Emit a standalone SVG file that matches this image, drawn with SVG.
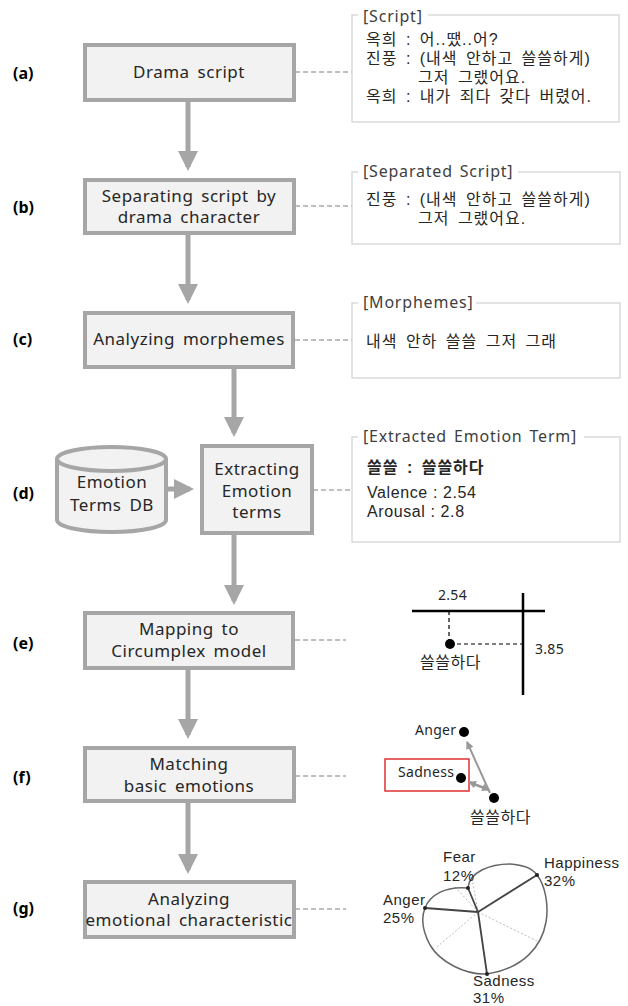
<svg xmlns="http://www.w3.org/2000/svg" width="628" height="1006" viewBox="0 0 628 1006">
<style>
text{font-family:"Noto Sans","Noto Sans CJK KR",sans-serif;fill:#262626}
.kr{font-family:"Noto Sans CJK KR","Noto Sans",sans-serif}
.box{fill:#f2f2f2;stroke:#a6a6a6;stroke-width:4}
.bt{font-size:17px;text-anchor:middle;letter-spacing:0.5px;word-spacing:3px}
.lbl{font-size:16px;font-weight:bold;fill:#000}
.note{fill:#fff;stroke:#d4d4d4;stroke-width:1.3}
.nt{font-family:"Liberation Sans","Noto Sans CJK KR",sans-serif;font-size:16px;letter-spacing:1px;word-spacing:3px}
.vt{font-family:"Liberation Sans",sans-serif;font-size:16px;letter-spacing:0.6px}
.ttl{font-size:16px;fill:#404040;letter-spacing:0.8px;word-spacing:2px}
.dash{stroke:#7f7f7f;stroke-width:1;stroke-dasharray:5,3;fill:none}
.flow{stroke:#a6a6a6;stroke-width:5;fill:none}
.ch{font-size:14px;letter-spacing:0.3px}
.cl{font-family:"Liberation Sans",sans-serif;font-size:15px;letter-spacing:0.5px}
.ck{font-size:16px;letter-spacing:0.5px}
</style>
<defs>
<marker id="ah" markerWidth="4" markerHeight="4" refX="3.2" refY="2" orient="auto" markerUnits="strokeWidth">
<path d="M0,0 L4,2 L0,4 Z" fill="#a6a6a6"/>
</marker>
<marker id="gh" markerWidth="8" markerHeight="8" refX="7" refY="4" orient="auto-start-reverse" markerUnits="userSpaceOnUse">
<path d="M0,0 L8,4 L0,8 Z" fill="#999"/>
</marker>
</defs>

<g id="labels">
<text class="lbl" x="13" y="79">(a)</text>
<text class="lbl" x="13" y="213">(b)</text>
<text class="lbl" x="13" y="345">(c)</text>
<text class="lbl" x="13" y="499">(d)</text>
<text class="lbl" x="13" y="649">(e)</text>
<text class="lbl" x="13" y="783">(f)</text>
<text class="lbl" x="13" y="914">(g)</text>
</g>

<g id="connectors">
<path class="flow" d="M188,100 V167" marker-end="url(#ah)"/>
<path class="flow" d="M188,233 V300" marker-end="url(#ah)"/>
<path class="flow" d="M234,367 V433" marker-end="url(#ah)"/>
<path class="flow" d="M166,489 H190" marker-end="url(#ah)"/>
<path class="flow" d="M234,533 V601" marker-end="url(#ah)"/>
<path class="flow" d="M188,668 V735" marker-end="url(#ah)"/>
<path class="flow" d="M188,801 V870" marker-end="url(#ah)"/>
<path class="dash" d="M295,72 H352"/>
<path class="dash" d="M295,206 H352"/>
<path class="dash" d="M295,340 H352"/>
<path class="dash" d="M313,490 H352"/>
<path class="dash" d="M295,640 H346"/>
<path class="dash" d="M295,776 H346"/>
<path class="dash" d="M295,909 H346"/>
</g>

<g id="node-a">
<rect class="box" x="85" y="45" width="209" height="55"/>
<text class="bt" x="189" y="78">Drama script</text>
</g>
<g id="node-b">
<rect class="box" x="85" y="180" width="209" height="53"/>
<text class="bt" x="189" y="202">Separating script by<tspan x="189" dy="21">drama character</tspan></text>
</g>
<g id="node-c">
<rect class="box" x="85" y="313" width="208" height="54"/>
<text class="bt" x="189" y="345">Analyzing morphemes</text>
</g>
<g id="node-db">
<path d="M57,459 V520 A54.5,12 0 0 0 166,520 V459" fill="#f2f2f2" stroke="#a6a6a6" stroke-width="4"/>
<ellipse cx="111.5" cy="459" rx="54.5" ry="12" fill="#f2f2f2" stroke="#a6a6a6" stroke-width="4"/>
<text class="bt" x="112" y="488">Emotion<tspan x="112" dy="23">Terms DB</tspan></text>
</g>
<g id="node-d">
<rect class="box" x="202" y="446" width="110" height="87"/>
<text class="bt" x="257" y="475">Extracting<tspan x="257" dy="22">Emotion</tspan><tspan x="257" dy="21">terms</tspan></text>
</g>
<g id="node-e">
<rect class="box" x="85" y="613" width="208" height="55"/>
<text class="bt" x="189" y="635">Mapping to<tspan x="189" dy="22">Circumplex model</tspan></text>
</g>
<g id="node-f">
<rect class="box" x="85" y="748" width="209" height="53"/>
<text class="bt" x="189" y="770">Matching<tspan x="189" dy="22">basic emotions</tspan></text>
</g>
<g id="node-g">
<rect class="box" x="85" y="882" width="209" height="55"/>
<text class="bt" x="189" y="905">Analyzing<tspan x="189" dy="21">emotional characteristic</tspan></text>
</g>

<g id="note-a">
<rect class="note" x="352" y="15" width="267" height="107"/>
<rect x="358" y="9" width="70" height="12" fill="#fff"/>
<text class="ttl" x="363" y="22">[Script]</text>
<text class="nt" x="366" y="45">옥희 : 어..땠..어?<tspan x="366" dy="19">진풍 : (내색 안하고 쓸쓸하게)</tspan><tspan x="418" dy="19">그저 그랬어요.</tspan><tspan x="366" dy="19">옥희 : 내가 죄다 갖다 버렸어.</tspan></text>
</g>
<g id="note-b">
<rect class="note" x="352" y="172" width="268" height="72"/>
<rect x="358" y="166" width="160" height="12" fill="#fff"/>
<text class="ttl" x="363" y="177">[Separated Script]</text>
<text class="nt" x="366" y="205">진풍 : (내색 안하고 쓸쓸하게)<tspan x="418" dy="19">그저 그랬어요.</tspan></text>
</g>
<g id="note-c">
<rect class="note" x="352" y="303" width="268" height="75"/>
<rect x="358" y="297" width="118" height="12" fill="#fff"/>
<text class="ttl" x="363" y="308">[Morphemes]</text>
<text class="nt" x="366" y="347">내색 안하 쓸쓸 그저 그래</text>
</g>
<g id="note-d">
<rect class="note" x="352" y="437" width="268" height="105"/>
<rect x="358" y="431" width="226" height="12" fill="#fff"/>
<text class="ttl" x="363" y="442">[Extracted Emotion Term]</text>
<text class="nt" x="367" y="473" font-weight="bold">쓸쓸 : 쓸쓸하다</text>
<text class="vt" x="367" y="498">Valence : 2.54<tspan x="367" dy="19">Arousal : 2.8</tspan></text>
</g>

<g id="chart-e">
<path d="M412,611 H545 M523,593 V695" stroke="#000" stroke-width="2.5" fill="none"/>
<path d="M449,611 V642 M450,644 H523" stroke="#000" stroke-width="1.2" stroke-dasharray="4,3" fill="none"/>
<circle cx="450" cy="644" r="5" fill="#000"/>
<text class="ch" x="438" y="600">2.54</text>
<text class="ch" x="535" y="654">3.85</text>
<text class="ck kr" x="420" y="668">쓸쓸하다</text>
</g>

<g id="chart-f">
<rect x="385" y="759" width="84" height="32" fill="none" stroke="#e03030" stroke-width="1.5"/>
<path d="M490,793 L467,742" stroke="#999" stroke-width="2" fill="none" marker-end="url(#gh)"/>
<path d="M489,790 L469,782" stroke="#999" stroke-width="2.5" fill="none" marker-start="url(#gh)" marker-end="url(#gh)"/>
<circle cx="464" cy="732" r="5" fill="#000"/>
<circle cx="461" cy="778" r="5" fill="#000"/>
<circle cx="494" cy="798" r="5" fill="#000"/>
<text class="ch" x="415" y="735" font-size="15">Anger</text>
<text class="ch" x="398" y="777" font-size="15">Sadness</text>
<text class="ck kr" x="470" y="823">쓸쓸하다</text>
</g>

<g id="chart-g">
<path d="M478,912 L455,887 M478,912 L472,878 M478,912 L437,947 M478,912 L537,941" stroke="#bbb" stroke-width="1" stroke-dasharray="2,2" fill="none"/>
<path d="M468,888 C469,872 490,864 510,864 C525,865 533,869 537,875 C545,885 549,905 546,922 C542,945 525,968 487,974 C465,975 440,962 430,945 C422,930 421,918 425,908 C430,895 445,886 468,888 Z" fill="none" stroke="#666" stroke-width="1.5"/>
<path d="M478,912 L537,875 M478,912 L468,888 M478,912 L425,908 M478,912 L487,974" stroke="#444" stroke-width="1.8" fill="none"/>
<circle cx="537" cy="875" r="2" fill="#222"/>
<circle cx="468" cy="888" r="2" fill="#222"/>
<circle cx="425" cy="908" r="2" fill="#222"/>
<circle cx="487" cy="974" r="2" fill="#222"/>
<text class="cl" x="443" y="862">Fear<tspan x="443" dy="19">12%</tspan></text>
<text class="cl" x="544" y="868">Happiness<tspan x="544" dy="18">32%</tspan></text>
<text class="cl" x="383" y="905">Anger<tspan x="383" dy="18">25%</tspan></text>
<text class="cl" x="473" y="986">Sadness<tspan x="473" dy="17">31%</tspan></text>
</g>
</svg>
